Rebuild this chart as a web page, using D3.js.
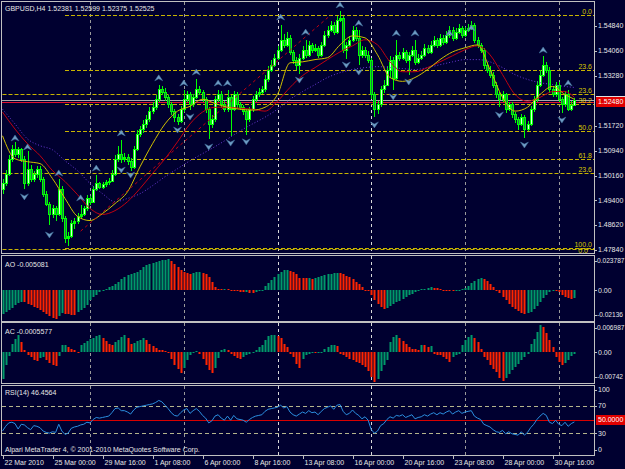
<!DOCTYPE html>
<html>
<head>
<meta charset="utf-8">
<script src="https://d3js.org/d3.v7.min.js"></script>
<style>
  body { margin: 0; background: #000030; }
  #chart text { font-family: "Liberation Sans", Arial, sans-serif; font-size: 7px; }
</style>
</head>
<body>
<div id="chart"></div>
<script>
// ---- data ----
var axisBars = [0, 16, 32, 48, 64, 80, 96, 112, 128, 144, 160, 176];
var axisTexts = ["22 Mar 2010", "25 Mar 00:00", "29 Mar 16:00", "1 Apr 08:00", "6 Apr 00:00", "8 Apr 16:00",
    "13 Apr 08:00", "16 Apr 00:00", "20 Apr 16:00", "23 Apr 08:00", "28 Apr 00:00", "30 Apr 16:00"];
var weekBars = [28, 58, 88, 118, 148, 178];

var opens = [1.4975,1.4992,1.5023,1.5069,1.5100,1.5085,1.5100,1.5069,1.4992,1.5038,
 1.5007,1.5023,1.5038,1.5007,1.4960,1.4929,1.4898,1.4914,1.4898,1.4976,
 1.4883,1.4821,1.4827,1.4867,1.4876,1.4889,1.4898,1.4914,1.4945,1.4935,
 1.4976,1.4992,1.4982,1.4989,1.4995,1.5001,1.5023,1.5069,1.5085,1.5069,
 1.5076,1.5063,1.5044,1.5100,1.5147,1.5162,1.5178,1.5193,1.5218,1.5230,
 1.5255,1.5286,1.5279,1.5261,1.5239,1.5218,1.5199,1.5187,1.5224,1.5255,
 1.5270,1.5239,1.5261,1.5286,1.5279,1.5255,1.5224,1.5178,1.5193,1.5255,
 1.5270,1.5239,1.5224,1.5261,1.5224,1.5270,1.5239,1.5230,1.5218,1.5193,
 1.5224,1.5255,1.5270,1.5279,1.5286,1.5317,1.5348,1.5363,1.5385,1.5410,
 1.5441,1.5425,1.5447,1.5403,1.5379,1.5363,1.5385,1.5410,1.5394,1.5425,
 1.5410,1.5416,1.5394,1.5425,1.5456,1.5472,1.5487,1.5465,1.5503,1.5509,
 1.5410,1.5425,1.5441,1.5472,1.5447,1.5394,1.5410,1.5394,1.5379,1.5270,
 1.5224,1.5239,1.5286,1.5301,1.5348,1.5379,1.5320,1.5394,1.5385,1.5403,
 1.5379,1.5394,1.5410,1.5372,1.5385,1.5394,1.5416,1.5403,1.5425,1.5441,
 1.5425,1.5447,1.5434,1.5456,1.5472,1.5447,1.5465,1.5478,1.5456,1.5472,
 1.5478,1.5487,1.5441,1.5425,1.5410,1.5363,1.5348,1.5332,1.5301,1.5270,
 1.5255,1.5270,1.5224,1.5239,1.5209,1.5193,1.5178,1.5199,1.5162,1.5178,
 1.5224,1.5255,1.5301,1.5332,1.5363,1.5348,1.5286,1.5270,1.5301,1.5255,
 1.5239,1.5270,1.5224,1.5238];
var highs = [1.5005,1.5035,1.5080,1.5112,1.5122,1.5105,1.5104,1.5078,1.5092,1.5050,
 1.5032,1.5048,1.5045,1.5012,1.4968,1.4935,1.4925,1.4920,1.5005,1.4985,
 1.4890,1.4840,1.4878,1.4885,1.4900,1.4925,1.4920,1.4955,1.4952,1.4985,
 1.5018,1.4998,1.4996,1.5002,1.5008,1.5035,1.5082,1.5110,1.5128,1.5088,
 1.5085,1.5070,1.5110,1.5158,1.5172,1.5190,1.5205,1.5230,1.5245,1.5268,
 1.5300,1.5298,1.5290,1.5268,1.5245,1.5225,1.5210,1.5235,1.5284,1.5280,
 1.5278,1.5272,1.5318,1.5298,1.5285,1.5262,1.5230,1.5205,1.5265,1.5284,
 1.5280,1.5250,1.5284,1.5268,1.5282,1.5278,1.5248,1.5238,1.5225,1.5232,
 1.5265,1.5280,1.5290,1.5298,1.5330,1.5360,1.5378,1.5398,1.5422,1.5487,
 1.5460,1.5465,1.5455,1.5410,1.5388,1.5395,1.5420,1.5440,1.5438,1.5432,
 1.5428,1.5422,1.5435,1.5468,1.5485,1.5500,1.5495,1.5515,1.5530,1.5515,
 1.5435,1.5452,1.5485,1.5480,1.5472,1.5420,1.5418,1.5405,1.5385,1.5278,
 1.5250,1.5298,1.5315,1.5360,1.5390,1.5388,1.5440,1.5402,1.5415,1.5410,
 1.5402,1.5422,1.5440,1.5395,1.5405,1.5428,1.5425,1.5438,1.5452,1.5448,
 1.5460,1.5455,1.5468,1.5485,1.5480,1.5478,1.5490,1.5485,1.5482,1.5490,
 1.5500,1.5492,1.5450,1.5432,1.5415,1.5372,1.5358,1.5340,1.5308,1.5278,
 1.5280,1.5275,1.5248,1.5245,1.5215,1.5200,1.5210,1.5205,1.5188,1.5235,
 1.5265,1.5312,1.5345,1.5390,1.5372,1.5355,1.5295,1.5310,1.5308,1.5262,
 1.5280,1.5284,1.5250,1.5260];
var lows = [1.4960,1.4985,1.5015,1.5060,1.5075,1.5072,1.5058,1.4975,1.4985,1.4995,
 1.4998,1.5010,1.4998,1.4950,1.4920,1.4862,1.4885,1.4875,1.4890,1.4870,
 1.4805,1.4795,1.4820,1.4850,1.4865,1.4880,1.4890,1.4905,1.4925,1.4930,
 1.4968,1.4975,1.4975,1.4982,1.4988,1.4995,1.5015,1.5060,1.5055,1.5060,
 1.5050,1.5030,1.5038,1.5092,1.5138,1.5150,1.5165,1.5185,1.5208,1.5220,
 1.5248,1.5268,1.5250,1.5228,1.5205,1.5185,1.5175,1.5180,1.5215,1.5245,
 1.5222,1.5230,1.5255,1.5268,1.5245,1.5212,1.5130,1.5165,1.5185,1.5245,
 1.5228,1.5215,1.5215,1.5140,1.5218,1.5228,1.5220,1.5205,1.5143,1.5185,
 1.5215,1.5245,1.5262,1.5270,1.5278,1.5310,1.5340,1.5355,1.5378,1.5402,
 1.5415,1.5418,1.5392,1.5365,1.5345,1.5335,1.5378,1.5385,1.5388,1.5400,
 1.5402,1.5385,1.5388,1.5418,1.5448,1.5465,1.5455,1.5458,1.5495,1.5400,
 1.5382,1.5418,1.5435,1.5438,1.5362,1.5385,1.5385,1.5368,1.5255,1.5200,
 1.5210,1.5230,1.5275,1.5295,1.5320,1.5284,1.5315,1.5375,1.5378,1.5368,
 1.5331,1.5388,1.5362,1.5365,1.5378,1.5388,1.5395,1.5398,1.5418,1.5415,
 1.5418,1.5425,1.5428,1.5448,1.5438,1.5440,1.5458,1.5448,1.5450,1.5465,
 1.5470,1.5432,1.5415,1.5400,1.5350,1.5338,1.5322,1.5290,1.5258,1.5230,
 1.5248,1.5212,1.5218,1.5198,1.5180,1.5160,1.5170,1.5135,1.5155,1.5170,
 1.5215,1.5248,1.5292,1.5325,1.5338,1.5275,1.5262,1.5262,1.5245,1.5212,
 1.5232,1.5218,1.5218,1.5238];
var closes = [1.4992,1.5023,1.5069,1.5100,1.5085,1.5100,1.5069,1.4992,1.5038,1.5007,
 1.5023,1.5038,1.5007,1.4960,1.4929,1.4898,1.4914,1.4898,1.4976,1.4883,
 1.4821,1.4827,1.4867,1.4876,1.4889,1.4898,1.4914,1.4945,1.4935,1.4976,
 1.4992,1.4982,1.4989,1.4995,1.5001,1.5023,1.5069,1.5085,1.5069,1.5076,
 1.5063,1.5044,1.5100,1.5147,1.5162,1.5178,1.5193,1.5218,1.5230,1.5255,
 1.5286,1.5279,1.5261,1.5239,1.5218,1.5199,1.5187,1.5224,1.5255,1.5270,
 1.5239,1.5261,1.5286,1.5279,1.5255,1.5224,1.5178,1.5193,1.5255,1.5270,
 1.5239,1.5224,1.5261,1.5224,1.5270,1.5239,1.5230,1.5218,1.5193,1.5224,
 1.5255,1.5270,1.5279,1.5286,1.5317,1.5348,1.5363,1.5385,1.5410,1.5441,
 1.5425,1.5447,1.5403,1.5379,1.5363,1.5385,1.5410,1.5394,1.5425,1.5410,
 1.5416,1.5394,1.5425,1.5456,1.5472,1.5487,1.5465,1.5503,1.5509,1.5410,
 1.5425,1.5441,1.5472,1.5447,1.5394,1.5410,1.5394,1.5379,1.5270,1.5224,
 1.5239,1.5286,1.5301,1.5348,1.5379,1.5320,1.5394,1.5385,1.5403,1.5379,
 1.5394,1.5410,1.5372,1.5385,1.5394,1.5416,1.5403,1.5425,1.5441,1.5425,
 1.5447,1.5434,1.5456,1.5472,1.5447,1.5465,1.5478,1.5456,1.5472,1.5478,
 1.5487,1.5441,1.5425,1.5410,1.5363,1.5348,1.5332,1.5301,1.5270,1.5255,
 1.5270,1.5224,1.5239,1.5209,1.5193,1.5178,1.5199,1.5162,1.5178,1.5224,
 1.5255,1.5301,1.5332,1.5363,1.5348,1.5286,1.5270,1.5301,1.5255,1.5239,
 1.5270,1.5224,1.5238,1.5252];

// moving averages, one reading every 4 bars plus the last bar
var maBars = [0,4,8,12,16,20,24,28,32,36,40,44,48,52,56,60,64,68,72,76,80,84,88,92,
 96,100,104,108,112,116,120,124,128,132,136,140,144,148,152,156,160,164,168,172,176,180,183];
var maYellow = [1.5141,1.5069,1.5060,1.5054,1.5007,1.4945,1.4889,1.4876,1.4898,1.4929,1.4966,1.5044,
 1.5116,1.5178,1.5218,1.5233,1.5255,1.5242,1.5230,1.5224,1.5221,1.5230,1.5270,1.5369,
 1.5372,1.5379,1.5385,1.5425,1.5453,1.5447,1.5394,1.5323,1.5311,1.5323,1.5348,1.5379,
 1.5403,1.5416,1.5425,1.5348,1.5261,1.5218,1.5230,1.5270,1.5295,1.5270,1.5255];
var maRed = [1.5215,1.5162,1.5116,1.5079,1.5032,1.4998,1.4957,1.4914,1.4895,1.4907,1.4935,1.4976,
 1.5023,1.5069,1.5122,1.5178,1.5215,1.5230,1.5230,1.5227,1.5224,1.5218,1.5249,1.5292,
 1.5329,1.5354,1.5379,1.5403,1.5422,1.5441,1.5425,1.5372,1.5341,1.5341,1.5354,1.5372,
 1.5391,1.5410,1.5422,1.5394,1.5332,1.5270,1.5249,1.5261,1.5279,1.5279,1.5261];
var maPurple = [1.5224,1.5178,1.5131,1.5110,1.5097,1.5063,1.5032,1.4992,1.4960,1.4935,1.4945,1.4960,
 1.4985,1.5013,1.5038,1.5063,1.5085,1.5107,1.5131,1.5156,1.5178,1.5199,1.5224,1.5255,
 1.5279,1.5301,1.5323,1.5338,1.5348,1.5354,1.5357,1.5354,1.5351,1.5348,1.5354,1.5363,
 1.5372,1.5379,1.5379,1.5372,1.5354,1.5332,1.5317,1.5307,1.5301,1.5295,1.5292];
var trendBars = [25, 105];
var trendPrices = [1.4843, 1.5518];

var fibLabels = ["0.0", "23.6", "23.6", "38.2", "50.0", "61.8", "23.6", "100.0", "0.0"];
var fibPrices = [1.55184, 1.53465, 1.52715, 1.52403, 1.51559, 1.50699, 1.50246, 1.47903, 1.47860];
var fibFrom = [20, 20, 0, 20, 20, 20, 0, 20, 0];
var fibBelow = [false, false, false, false, false, false, false, false, true];

var fractalUpBars = [4, 8, 18, 25, 30, 38, 50, 58, 62, 69, 72, 89, 97, 108, 114, 126, 132, 143, 150, 173, 181];
var fractalUpPrices = [1.5134, 1.5106, 1.5025, 1.4947, 1.5040, 1.5150, 1.5322, 1.5306, 1.5340, 1.5306, 1.5306,
 1.5512, 1.5465, 1.5550, 1.5493, 1.5462, 1.5462, 1.5462, 1.5478, 1.5409, 1.5306];
var fractalDownBars = [7, 15, 38, 41, 56, 60, 66, 73, 78, 95, 110, 114, 119, 125, 130, 159, 167, 179];
var fractalDownPrices = [1.4950, 1.4831, 1.5034, 1.5018, 1.5159, 1.5200, 1.5106, 1.5118, 1.5122, 1.5315,
 1.5362, 1.5340, 1.5175, 1.5262, 1.5309, 1.5206, 1.5112, 1.5190];

var priceTicks = [1.54840, 1.54060, 1.53280, 1.51720, 1.50940, 1.50160, 1.49400, 1.48620, 1.47840];
var bidPrice = 1.52525;
var hLinePrice = 1.52480;

var aoValues = [-0.0162,-0.0150,-0.0135,-0.0120,-0.0105,-0.0090,-0.0081,-0.0085,-0.0093,-0.0105,
 -0.0115,-0.0125,-0.0140,-0.0151,-0.0165,-0.0180,-0.0192,-0.0197,-0.0180,-0.0160,
 -0.0165,-0.0168,-0.0170,-0.0172,-0.0150,-0.0139,-0.0120,-0.0100,-0.0070,-0.0050,
 -0.0035,-0.0015,0.0005,0.0012,0.0020,0.0030,0.0046,0.0060,0.0075,0.0090,
 0.0104,0.0110,0.0118,0.0127,0.0140,0.0158,0.0174,0.0185,0.0190,0.0197,
 0.0203,0.0208,0.0213,0.0216,0.0205,0.0185,0.0160,0.0140,0.0125,0.0118,
 0.0115,0.0120,0.0125,0.0127,0.0120,0.0110,0.0095,0.0058,0.0025,0.0010,
 0.0008,0.0012,0.0010,0.0005,0.0002,-0.0005,-0.0010,-0.0015,-0.0012,-0.0018,
 -0.0022,-0.0012,-0.0005,0.0005,0.0030,0.0050,0.0070,0.0090,0.0115,0.0130,
 0.0138,0.0140,0.0135,0.0125,0.0110,0.0085,0.0083,0.0082,0.0084,0.0080,
 0.0082,0.0090,0.0100,0.0105,0.0110,0.0115,0.0118,0.0120,0.0118,0.0110,
 0.0100,0.0090,0.0075,0.0060,0.0040,0.0020,0.0005,-0.0005,-0.0035,-0.0065,
 -0.0095,-0.0115,-0.0127,-0.0125,-0.0110,-0.0095,-0.0085,-0.0075,-0.0060,-0.0050,
 -0.0035,-0.0025,-0.0012,0.0003,0.0008,0.0012,0.0016,0.0020,0.0018,0.0015,
 0.0010,0.0005,0.0002,-0.0003,-0.0006,-0.0003,0.0002,0.0006,0.0015,0.0030,
 0.0050,0.0065,0.0078,0.0085,0.0080,0.0065,0.0045,0.0025,0.0005,-0.0020,
 -0.0045,-0.0070,-0.0095,-0.0115,-0.0130,-0.0145,-0.0158,-0.0165,-0.0160,-0.0150,
 -0.0130,-0.0110,-0.0085,-0.0055,-0.0030,-0.0010,0.0005,0.0002,-0.0015,-0.0030,
 -0.0045,-0.0055,-0.0058,-0.005081];
var acValues = [-0.0065,-0.0030,-0.0010,0.0020,0.0032,0.0041,0.0024,0.0004,-0.0006,-0.0012,
 -0.0018,-0.0021,-0.0014,-0.0012,-0.0020,-0.0026,-0.0031,-0.0033,-0.0010,0.0016,
 0.0018,0.0012,0.0008,0.0004,0.0001,0.0018,0.0022,0.0027,0.0031,0.0035,
 0.0038,0.0040,0.0033,0.0026,0.0019,0.0016,0.0024,0.0030,0.0036,0.0040,
 0.0034,0.0020,0.0022,0.0026,0.0030,0.0033,0.0028,0.0020,0.0014,0.0009,
 0.0006,0.0004,0.0002,0.0000,-0.0016,-0.0030,-0.0041,-0.0049,-0.0037,-0.0020,
 -0.0006,0.0001,0.0002,-0.0005,-0.0016,-0.0030,-0.0042,-0.0049,-0.0037,-0.0015,
 0.0005,0.0007,0.0004,-0.0004,-0.0010,-0.0014,-0.0016,-0.0012,-0.0006,-0.0004,
 -0.0002,0.0006,0.0012,0.0016,0.0030,0.0038,0.0041,0.0042,0.0038,0.0033,
 0.0020,0.0012,-0.0004,-0.0012,-0.0028,-0.0037,-0.0016,-0.0008,-0.0004,-0.0002,
 -0.0003,-0.0001,0.0000,0.0008,0.0013,0.0016,0.0017,0.0015,-0.0004,-0.0008,
 -0.0012,-0.0016,-0.0020,-0.0023,-0.0026,-0.0030,-0.0035,-0.0045,-0.0060,-0.0072,
 -0.0065,-0.0045,-0.0032,-0.0020,0.0024,0.0036,0.0041,0.0033,0.0027,0.0020,
 0.0012,0.0008,0.0008,0.0006,0.0016,0.0016,0.0012,0.0014,-0.0004,-0.0006,
 -0.0008,-0.0012,-0.0016,-0.0024,-0.0012,-0.0008,-0.0004,0.0018,0.0028,0.0036,
 0.0041,0.0033,0.0024,0.0008,-0.0012,-0.0020,-0.0030,-0.0040,-0.0048,-0.0062,
 -0.0069,-0.0061,-0.0052,-0.0044,-0.0036,-0.0028,-0.0020,-0.0012,-0.0004,0.0020,
 0.0032,0.0049,0.0065,0.0060,0.0045,0.0030,0.0012,-0.0012,-0.0024,-0.0030,
 -0.0026,-0.0018,-0.0010,-0.00056];
var rsiValues = [33,40,45,46,44,36,43,42,38,35,41,40,38,33,31,30,32,31,43,33,
 28,30,37,39,40,42,43,46,45,50,53,52,53,54,55,60,66,67,63,63,
 61,58,64,68,69,70,71,72,73,75,78,76,71,66,60,56,55,60,64,66,
 59,63,66,62,56,52,45,48,55,57,52,49,55,49,56,51,50,49,46,50,
 53,55,56,57,62,65,66,67,68,71,67,69,61,57,55,58,61,59,63,60,
 61,57,62,66,68,70,65,71,72,62,57,59,64,59,56,51,54,49,35,30,
 33,41,44,50,54,52,56,55,57,53,55,57,51,53,54,57,55,58,60,57,
 60,58,61,63,58,61,63,59,61,62,63,55,52,50,43,41,39,35,32,31,
 34,29,32,29,28,27,32,27,31,38,43,50,55,59,56,46,44,49,43,41,
 46,40,44,46.46];
var rsiLevels = [70, 30];
var rsiMarked = 50;

var chart = {
    svg: 0,
    x: 0,
    left: 2,
    right: 594,
    main: { top: 2, bottom: 253 },
    ao: { top: 256, bottom: 321 },
    ac: { top: 323, bottom: 383 },
    rsi: { top: 386, bottom: 455 },

    initialize: function() {
        var self = this;
        self.svg = d3.select("#chart").append("svg")
            .attr("width", 625)
            .attr("height", 469)
            .style("display", "block");
        self.svg.append("rect").attr("width", 625).attr("height", 469).attr("fill", "#000030");
        self.x = d3.scaleLinear().domain([0, 183]).range([2.5, 574.4]);
        self.drawFrames();
        self.drawMain();
        self.drawAO();
        self.drawAC();
        self.drawRSI();
        self.drawTimeAxis();
    },

    drawFrames: function() {
        var self = this;
        [self.main, self.ao, self.ac, self.rsi].forEach(function(p, k) {
            var clip = self.svg.append("defs").append("clipPath").attr("id", "clip" + k);
            clip.append("rect").attr("x", self.left).attr("y", p.top)
                .attr("width", self.right - self.left).attr("height", p.bottom - p.top);
            self.svg.append("rect")
                .attr("x", 1.5).attr("y", p.top - 0.5)
                .attr("width", self.right - 1).attr("height", p.bottom - p.top + 1)
                .attr("fill", "none").attr("stroke", "#c0c0c0");
            // week separators
            self.svg.append("g").attr("clip-path", "url(#clip" + k + ")")
                .selectAll("line").data(weekBars).enter().append("line")
                .attr("x1", function(d) { return Math.round(self.x(d)) + 0.5; })
                .attr("x2", function(d) { return Math.round(self.x(d)) + 0.5; })
                .attr("y1", p.top).attr("y2", p.bottom)
                .attr("stroke", function(d) { return (d == 88 || d == 118) ? "#d8d8d8" : "#9a9a9a"; })
                .attr("stroke-dasharray", "3,3");
        });
    },

    rightLabel: function(y, txt, color) {
        var self = this;
        self.svg.append("line").attr("x1", 594).attr("x2", 597).attr("y1", Math.round(y) + 0.5)
            .attr("y2", Math.round(y) + 0.5).attr("stroke", "#c0c0c0");
        var t = self.svg.append("text").attr("x", 598).attr("y", y).attr("dy", "0.35em")
            .attr("fill", color || "#e6e6e6").text(txt);
        if (txt.length > 7) t.style("font-size", "6.6px").attr("x", 597);
    },

    drawMain: function() {
        var self = this;
        var x = self.x;
        var y = d3.scaleLinear().domain([1.4784, 1.5484]).range([250, 26]);
        var g = self.svg.append("g").attr("clip-path", "url(#clip0)");
        var labels = self.svg.append("g");

        // fibonacci levels
        fibPrices.forEach(function(p, i) {
            var yy = Math.round(y(p)) + 0.5;
            g.append("line").attr("x1", x(fibFrom[i])).attr("x2", self.right)
                .attr("y1", yy).attr("y2", yy)
                .attr("stroke", "#c8b400").attr("stroke-dasharray", "4,2");
            labels.append("text").attr("x", fibBelow[i] ? 588 : 592)
                .attr("y", fibBelow[i] ? 252.5 : yy - 2).attr("text-anchor", "end")
                .attr("fill", "#d8c800").text(fibLabels[i]);
        });

        // bid and horizontal line
        g.append("line").attr("x1", self.left).attr("x2", self.right)
            .attr("y1", Math.round(y(bidPrice)) + 0.5).attr("y2", Math.round(y(bidPrice)) + 0.5)
            .attr("stroke", "#a8a8a8");
        g.append("line").attr("x1", self.left).attr("x2", self.right)
            .attr("y1", Math.round(y(hLinePrice)) + 0.5).attr("y2", Math.round(y(hLinePrice)) + 0.5)
            .attr("stroke", "#e01030");

        // candles
        var idx = d3.range(closes.length);
        var cg = g.append("g");
        idx.forEach(function(i) {
            var px = Math.round(x(i));
            var top = Math.round(y(Math.max(opens[i], closes[i])));
            var bot = Math.round(y(Math.min(opens[i], closes[i])));
            cg.append("rect").attr("x", px).attr("width", 1)
                .attr("y", Math.round(y(highs[i]))).attr("height", Math.max(1, Math.round(y(lows[i])) - Math.round(y(highs[i]))))
                .attr("fill", "#00ff00");
            cg.append("rect").attr("x", px - 1).attr("width", 3)
                .attr("y", top).attr("height", Math.max(1, bot - top + 1))
                .attr("fill", "#00ff00");
            if (bot - top > 2) {
                cg.append("rect").attr("x", px).attr("width", 1)
                    .attr("y", top + 1).attr("height", bot - top - 1)
                    .attr("fill", closes[i] >= opens[i] ? "#d8ffd8" : "#1a7a4a");
            }
        });

        // moving averages
        var line = d3.line()
            .x(function(d, i) { return x(maBars[i]); })
            .y(function(d) { return y(d); })
            .curve(d3.curveMonotoneX);
        g.append("path").attr("d", line(maPurple)).attr("fill", "none")
            .attr("stroke", "#6a3ad8").attr("stroke-dasharray", "1,2");
        g.append("path").attr("d", line(maRed)).attr("fill", "none").attr("stroke", "#c00010");
        g.append("path").attr("d", line(maYellow)).attr("fill", "none").attr("stroke", "#d0c000");

        // trend line
        g.append("line").attr("x1", x(trendBars[0])).attr("y1", y(trendPrices[0]))
            .attr("x2", x(trendBars[1])).attr("y2", y(trendPrices[1]))
            .attr("stroke", "#c00010").attr("stroke-dasharray", "3,3");

        // fractals
        g.selectAll(".fup").data(fractalUpBars).enter().append("path")
            .attr("class", "fup")
            .attr("transform", function(d, i) { return "translate(" + x(d) + "," + y(fractalUpPrices[i]) + ")"; })
            .attr("d", "M0,-3L4,3L0,1L-4,3Z")
            .attr("fill", "#6f9cc4").attr("stroke", "#3f6f9a").attr("stroke-width", 0.5);
        g.selectAll(".fdn").data(fractalDownBars).enter().append("path")
            .attr("class", "fdn")
            .attr("transform", function(d, i) { return "translate(" + x(d) + "," + y(fractalDownPrices[i]) + ")"; })
            .attr("d", "M0,3L4,-3L0,-1L-4,-3Z")
            .attr("fill", "#6f9cc4").attr("stroke", "#3f6f9a").attr("stroke-width", 0.5);

        // axis
        priceTicks.forEach(function(p) { self.rightLabel(y(p), d3.format(".5f")(p)); });
        var by = Math.round(y(hLinePrice));
        self.svg.append("rect").attr("x", 596).attr("y", by - 5).attr("width", 29).attr("height", 10)
            .attr("fill", "#e00000");
        self.svg.append("line").attr("x1", 596).attr("x2", 625).attr("y1", by - 5.5).attr("y2", by - 5.5)
            .attr("stroke", "#e0e0e0");
        self.svg.append("text").attr("x", 598).attr("y", by).attr("dy", "0.35em")
            .attr("fill", "#ffffff").text(d3.format(".5f")(hLinePrice));

        self.svg.append("text").attr("x", 5).attr("y", 11).attr("fill", "#e6e6e6")
            .text("GBPUSD,H4  1.52381 1.52599 1.52375 1.52525");
    },

    histogram: function(panel, clipId, values, lo, hi, title, topTxt, botTxt) {
        var self = this;
        var x = self.x;
        var y = d3.scaleLinear().domain([lo, hi]).range([panel.bottom, panel.top]);
        var g = self.svg.append("g").attr("clip-path", "url(#" + clipId + ")");
        var y0 = Math.round(y(0));
        g.selectAll("rect").data(values).enter().append("rect")
            .attr("x", function(d, i) { return Math.round(x(i)) - 0.5; })
            .attr("width", 2)
            .attr("y", function(d) { return d > 0 ? Math.round(y(d)) : y0; })
            .attr("height", function(d) { return Math.max(1, Math.abs(Math.round(y(d)) - y0)); })
            .attr("fill", function(d, i) { return (i == 0 || d > values[i - 1]) ? "#00996a" : "#ff2400"; });
        self.rightLabel(panel.top + 5, topTxt);
        self.rightLabel(y(0), "0.00");
        self.rightLabel(panel.bottom - 6, botTxt);
        self.svg.append("text").attr("x", 5).attr("y", panel.top + 11).attr("fill", "#e6e6e6").text(title);
    },

    drawAO: function() {
        this.histogram(this.ao, "clip1", aoValues, -0.02136, 0.023787, "AO -0.005081", "0.023787", "-0.02136");
    },

    drawAC: function() {
        this.histogram(this.ac, "clip2", acValues, -0.00742, 0.006987, "AC -0.0005577", "0.006987", "-0.00742");
    },

    drawRSI: function() {
        var self = this;
        var x = self.x;
        var p = self.rsi;
        var y = d3.scaleLinear().domain([0, 100]).range([453.5, 385.5]);
        var g = self.svg.append("g").attr("clip-path", "url(#clip3)");
        rsiLevels.forEach(function(v) {
            g.append("line").attr("x1", self.left).attr("x2", self.right)
                .attr("y1", Math.round(y(v)) + 0.5).attr("y2", Math.round(y(v)) + 0.5)
                .attr("stroke", "#b4b48c").attr("stroke-dasharray", "4,3");
        });
        g.append("line").attr("x1", self.left).attr("x2", self.right)
            .attr("y1", Math.round(y(rsiMarked)) + 0.5).attr("y2", Math.round(y(rsiMarked)) + 0.5)
            .attr("stroke", "#d80000");
        var line = d3.line().x(function(d, i) { return x(i); }).y(function(d) { return y(d); });
        g.append("path").attr("d", line(rsiValues)).attr("fill", "none").attr("stroke", "#2b8fe0");

        self.rightLabel(p.top + 4, "100");
        rsiLevels.forEach(function(v) { self.rightLabel(y(v), String(v)); });
        self.rightLabel(p.bottom - 5, "0");
        var by = Math.round(y(rsiMarked));
        self.svg.append("rect").attr("x", 596).attr("y", by - 5).attr("width", 29).attr("height", 10)
            .attr("fill", "#e00000");
        self.svg.append("text").attr("x", 598).attr("y", by).attr("dy", "0.35em")
            .attr("fill", "#ffffff").text("50.0000");

        self.svg.append("text").attr("x", 5).attr("y", p.top + 9).attr("fill", "#e6e6e6").text("RSI(14) 46.4564");
        self.svg.append("text").attr("x", 5).attr("y", p.bottom - 3).attr("fill", "#e6e6e6")
            .text("Alpari MetaTrader 4, \u00a9 2001-2010 MetaQuotes Software Corp.");
    },

    drawTimeAxis: function() {
        var self = this;
        var g = self.svg.append("g");
        axisBars.forEach(function(b, i) {
            var px = Math.round(self.x(b)) + 0.5;
            g.append("line").attr("x1", px).attr("x2", px).attr("y1", 456).attr("y2", 459)
                .attr("stroke", "#c0c0c0");
            g.append("text").attr("x", px + 1).attr("y", 465).attr("fill", "#e6e6e6").text(axisTexts[i]);
        });
    }
};

chart.initialize();
</script>
</body>
</html>
